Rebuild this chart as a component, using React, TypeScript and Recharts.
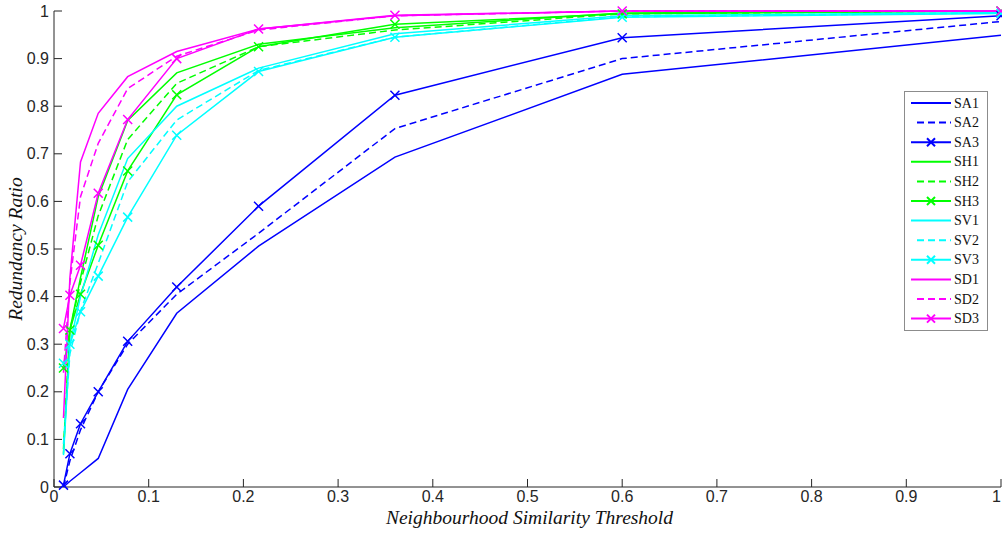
import React from 'react';
import { LineChart, Line, XAxis, YAxis, Label } from 'recharts';

// thresholds (x) shared by every series
const thresholds = [0.01, 0.0168, 0.028, 0.0467, 0.0778, 0.1296, 0.216, 0.36, 0.6, 1.0];

const sa1 = [0, 0.012, 0.03, 0.06, 0.205, 0.365, 0.506, 0.693, 0.867, 0.949];
const sa2 = [0, 0.055, 0.12, 0.2, 0.3, 0.405, 0.533, 0.753, 0.9, 0.978];
const sa3 = [0.004, 0.07, 0.133, 0.2, 0.306, 0.42, 0.59, 0.823, 0.944, 0.99];
const sh1 = [0.07, 0.33, 0.44, 0.61, 0.77, 0.87, 0.93, 0.965, 0.996, 1.0];
const sh2 = [0.08, 0.33, 0.43, 0.57, 0.73, 0.848, 0.925, 0.96, 0.994, 1.0];
const sh3 = [0.25, 0.33, 0.405, 0.508, 0.664, 0.824, 0.925, 0.972, 0.994, 1.0];
const sv1 = [0.067, 0.3, 0.4, 0.53, 0.69, 0.8, 0.88, 0.952, 0.99, 0.997];
const sv2 = [0.09, 0.28, 0.37, 0.47, 0.641, 0.771, 0.875, 0.945, 0.988, 0.996];
const sv3 = [0.26, 0.3, 0.368, 0.443, 0.567, 0.739, 0.873, 0.945, 0.987, 0.995];
const sd1 = [0.145, 0.44, 0.683, 0.785, 0.862, 0.915, 0.962, 0.99, 1.0, 1.0];
const sd2 = [0.24, 0.43, 0.61, 0.722, 0.837, 0.905, 0.96, 0.99, 1.0, 1.0];
const sd3 = [0.333, 0.403, 0.466, 0.617, 0.772, 0.9, 0.962, 0.991, 1.0, 1.0];

const xTicks = [0, 0.1, 0.2, 0.3, 0.4, 0.5, 0.6, 0.7, 0.8, 0.9, 1];
const yTicks = [0, 0.1, 0.2, 0.3, 0.4, 0.5, 0.6, 0.7, 0.8, 0.9, 1];

const BLUE = '#0000ff';
const GREEN = '#00ff00';
const CYAN = '#00ffff';
const MAGENTA = '#ff00ff';

type Style = 'solid' | 'dash' | 'cross';

const series: { name: string; values: number[]; color: string; style: Style }[] = [
    { name: 'SA1', values: sa1, color: BLUE, style: 'solid' },
    { name: 'SA2', values: sa2, color: BLUE, style: 'dash' },
    { name: 'SA3', values: sa3, color: BLUE, style: 'cross' },
    { name: 'SH1', values: sh1, color: GREEN, style: 'solid' },
    { name: 'SH2', values: sh2, color: GREEN, style: 'dash' },
    { name: 'SH3', values: sh3, color: GREEN, style: 'cross' },
    { name: 'SV1', values: sv1, color: CYAN, style: 'solid' },
    { name: 'SV2', values: sv2, color: CYAN, style: 'dash' },
    { name: 'SV3', values: sv3, color: CYAN, style: 'cross' },
    { name: 'SD1', values: sd1, color: MAGENTA, style: 'solid' },
    { name: 'SD2', values: sd2, color: MAGENTA, style: 'dash' },
    { name: 'SD3', values: sd3, color: MAGENTA, style: 'cross' },
];

const chartData = thresholds.map((x, i) => {
    const row: Record<string, number> = { x };
    series.forEach(s => { row[s.name] = s.values[i]; });
    return row;
});

const DASH = '7 4';
const AXIS = '#262626';
const tickFamily = '"Liberation Sans Narrow", "Liberation Sans", Arial, sans-serif';
const tickFont = { fill: '#262626', fontSize: 16, fontFamily: tickFamily };
const titleFont = '"Liberation Serif", "Times New Roman", serif';

const fmt = (v: number) => (v === 0 ? '0' : v === 1 ? '1' : v.toFixed(1));

// bottom tick: the last label hugs the right edge so it stays inside the page
const XTick = (props: any) => {
    const { x, y, payload } = props;
    const last = payload.value === 1;
    return (
        <text
            x={last ? Math.min(x + 4, 1001) : x}
            y={y}
            dy="0.71em"
            textAnchor={last ? 'end' : 'middle'}
            fill="#262626"
            fontSize={16}
            fontFamily={tickFamily}
        >
            {fmt(payload.value)}
        </text>
    );
};

const cross = (color: string) => (props: any) => {
    const { cx, cy, key } = props;
    if (cx == null || cy == null) return <g key={key} />;
    const r = 4.5;
    return (
        <path
            key={key}
            d={`M${cx - r},${cy - r}L${cx + r},${cy + r}M${cx - r},${cy + r}L${cx + r},${cy - r}`}
            stroke={color}
            strokeWidth={1.5}
            fill="none"
        />
    );
};

const LegendBox = () => (
    <div
        style={{
            position: 'absolute',
            left: 904,
            top: 91,
            width: 82,
            height: 238,
            border: '1px solid #8c8c8c',
            background: '#fff',
        }}
    >
        <svg width={82} height={238}>
            {series.map((s, i) => {
                const y = 11 + i * 19.6;
                return (
                    <g key={s.name}>
                        <line
                            x1={s.style === 'dash' ? 12 : 6}
                            x2={46}
                            y1={y}
                            y2={y}
                            stroke={s.color}
                            strokeWidth={2}
                            strokeDasharray={s.style === 'dash' ? DASH : undefined}
                        />
                        {s.style === 'cross' && (
                            <path
                                d={`M${26 - 4},${y - 4}L${26 + 4},${y + 4}M${26 - 4},${y + 4}L${26 + 4},${y - 4}`}
                                stroke={s.color}
                                strokeWidth={2}
                            />
                        )}
                        <text x={49} y={y} dominantBaseline="central" fontSize={14} fontFamily={titleFont} fill="#111">
                            {s.name}
                        </text>
                    </g>
                );
            })}
        </svg>
    </div>
);

export default function App() {
    return (
        <div style={{ position: 'absolute', left: 0, top: 0, width: 1002, height: 533, background: '#fff', overflow: 'hidden' }}>
            <LineChart width={1002} height={533} data={chartData} margin={{ top: 11, right: 1, bottom: 0, left: 0 }}>
                <XAxis
                    type="number"
                    dataKey="x"
                    domain={[0, 1]}
                    ticks={xTicks}
                    height={46}
                    tickSize={-8}
                    tickMargin={12}
                    stroke={AXIS}
                    tick={<XTick />}
                    interval={0}
                >
                    <Label
                        content={({ viewBox }: any) => (
                            <text
                                x={viewBox.x + viewBox.width / 2 + 2}
                                y={viewBox.y + 37}
                                textAnchor="middle"
                                fontStyle="italic"
                                fontSize={19.5}
                                fontFamily={titleFont}
                                fill="#111"
                            >
                                Neighbourhood Similarity Threshold
                            </text>
                        )}
                    />
                </XAxis>
                <XAxis
                    xAxisId="top"
                    orientation="top"
                    type="number"
                    dataKey="x"
                    domain={[0, 1]}
                    ticks={xTicks}
                    tickFormatter={() => ''}
                    height={0}
                    tickSize={-8}
                    stroke={AXIS}
                    interval={0}
                />
                <YAxis
                    type="number"
                    domain={[0, 1]}
                    ticks={yTicks}
                    tickFormatter={fmt}
                    width={54}
                    tickSize={-8}
                    tickMargin={13}
                    stroke={AXIS}
                    tick={tickFont}
                    interval={0}
                >
                    <Label
                        content={({ viewBox }: any) => {
                            const cx = 22;
                            const cy = viewBox.y + viewBox.height / 2;
                            return (
                                <text
                                    x={cx}
                                    y={cy}
                                    transform={`rotate(-90 ${cx} ${cy})`}
                                    textAnchor="middle"
                                    fontStyle="italic"
                                    fontSize={19.5}
                                    fontFamily={titleFont}
                                    fill="#111"
                                >
                                    Redundancy Ratio
                                </text>
                            );
                        }}
                    />
                </YAxis>
                <YAxis
                    yAxisId="right"
                    orientation="right"
                    type="number"
                    domain={[0, 1]}
                    ticks={yTicks}
                    tickFormatter={() => ''}
                    width={0}
                    tickSize={-8}
                    stroke={AXIS}
                    interval={0}
                />
                {series.map(s => (
                    <Line
                        key={s.name}
                        type="linear"
                        dataKey={s.name}
                        stroke={s.color}
                        strokeWidth={1.5}
                        strokeDasharray={s.style === 'dash' ? DASH : undefined}
                        dot={s.style === 'cross' ? cross(s.color) : false}
                        activeDot={false}
                        isAnimationActive={false}
                    />
                ))}
            </LineChart>
            <LegendBox />
        </div>
    );
}
